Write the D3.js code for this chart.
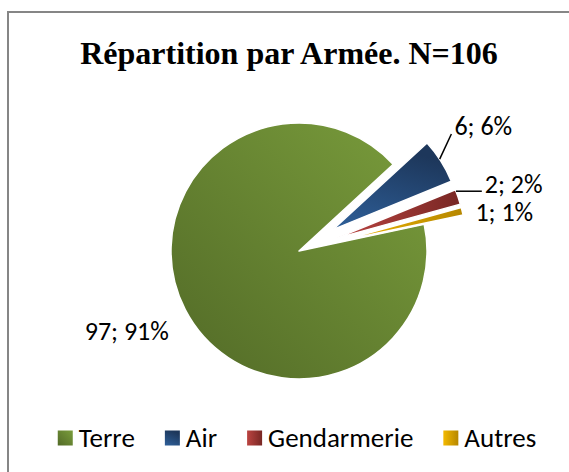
<!DOCTYPE html>
<html>
<head>
<meta charset="utf-8">
<script src="https://cdn.jsdelivr.net/npm/d3@7"></script>
<style>
  html, body { margin: 0; padding: 0; background: #fff; }
  svg { display: block; }
</style>
</head>
<body>
<div id="chart"></div>
<script>
// data
var categories = ["Terre", "Air", "Gendarmerie", "Autres"];
var counts = [97, 6, 2, 1];
var percentLabels = ["91%", "6%", "2%", "1%"];
var explodedSlices = ["Air", "Gendarmerie", "Autres"];
var titleText = "Répartition par Armée. N=106";

// styles (excel style gradients, light -> dark)
var lightColors = ["#7a9d3c", "#2f609a", "#bb4441", "#f3b900"];
var darkColors = ["#526a27", "#1d375b", "#782724", "#b68700"];
var gradDirs = [
    {x1: 1, y1: 0, x2: 0, y2: 1},
    {x1: 0, y1: 1, x2: 0.4, y2: 0},
    {x1: 0, y1: 0.5, x2: 1, y2: 0.5},
    {x1: 0, y1: 0.5, x2: 1, y2: 0.5}
];
var labelFont = "Carlito, Calibri, Lato, sans-serif";

var width = 569, height = 472;
var cx = 299, cy = 251, radius = 128, explodeDist = 40;
var startDeg = 78;

var svg = d3.select("#chart").append("svg")
    .attr("xmlns", "http://www.w3.org/2000/svg")
    .attr("width", width)
    .attr("height", height);

// chart area border (right / bottom are off the picture)
svg.append("rect")
    .attr("x", 8).attr("y", 12)
    .attr("width", 620).attr("height", 520)
    .attr("fill", "#fff")
    .attr("stroke", "#868686")
    .attr("stroke-width", 2);

var defs = svg.append("defs");
categories.forEach(function (c, i) {
    var g = defs.append("linearGradient")
        .attr("id", "grad" + i)
        .attr("x1", gradDirs[i].x1).attr("y1", gradDirs[i].y1)
        .attr("x2", gradDirs[i].x2).attr("y2", gradDirs[i].y2);
    g.append("stop").attr("offset", "0%").attr("stop-color", lightColors[i]);
    g.append("stop").attr("offset", "100%").attr("stop-color", darkColors[i]);
});

svg.append("text")
    .attr("x", 289)
    .attr("y", 64)
    .attr("text-anchor", "middle")
    .attr("font-family", "'Liberation Serif', 'Times New Roman', serif")
    .attr("font-weight", "bold")
    .attr("font-size", "32px")
    .text(titleText);

var rad = Math.PI / 180;
var pie = d3.pie()
    .sort(null)
    .startAngle(startDeg * rad)
    .endAngle(startDeg * rad + 2 * Math.PI)
    .value(function (d) { return d.count; });

var arc = d3.arc().innerRadius(0).outerRadius(radius);

var rows = categories.map(function (c, i) {
    return {name: c, count: counts[i], pct: percentLabels[i], idx: i};
});
var slices = pie(rows);

function polar(angle, r) {
    return [Math.sin(angle) * r, -Math.cos(angle) * r];
}

// offset of each slice centre (exploded ones pulled out along mid angle)
slices.forEach(function (s) {
    s.mid = (s.startAngle + s.endAngle) / 2;
    var off = explodedSlices.indexOf(s.data.name) >= 0 ? polar(s.mid, explodeDist) : [0, 0];
    s.cx = cx + off[0];
    s.cy = cy + off[1];
});

var pieGroup = svg.append("g").attr("class", "pie");
pieGroup.selectAll("path.slice")
    .data(slices)
    .enter()
    .append("path")
    .attr("class", "slice")
    .attr("transform", function (d) { return "translate(" + d.cx + "," + d.cy + ")"; })
    .attr("d", arc)
    .attr("fill", function (d) { return "url(#grad" + d.data.idx + ")"; })
    .attr("stroke", "#fff")
    .attr("stroke-width", 1.5)
    .attr("stroke-linejoin", "round");

// label placement: radius from slice centre + small angle nudge (degrees)
var labelRadius = [190, 183, 185, 169];
var labelNudge = [2.3, -2.3, 1.7, 3.7];
var labelSize = 26;

var labelGroup = svg.append("g").attr("class", "labels");
slices.forEach(function (s, i) {
    var p = polar(s.mid + labelNudge[i] * rad, labelRadius[i]);
    s.lx = s.cx + p[0];
    s.ly = s.cy + p[1];
});

var labels = labelGroup.selectAll("text")
    .data(slices)
    .enter()
    .append("text")
    .attr("x", function (d) { return d.lx; })
    .attr("y", function (d) { return d.ly; })
    .attr("dy", "0.35em")
    .attr("text-anchor", "middle")
    .attr("font-family", labelFont)
    .attr("font-size", labelSize + "px")
    .attr("fill", "#000")
    .text(function (d) { return d.data.count + "; " + d.data.pct; });

// leader lines for Air and Gendarmerie
labels.each(function (d) {
    var w = this.getComputedTextLength();
    var left = d.lx - w / 2;
    var start, end;
    if (d.data.name === "Air") {
        var a = polar(d.mid - 1 * rad, radius);
        start = [d.cx + a[0], d.cy + a[1]];
        end = [left - 3, d.ly + labelSize * 0.33];
    } else if (d.data.name === "Gendarmerie") {
        var b = polar(d.mid - 2.7 * rad, radius);
        start = [d.cx + b[0], d.cy + b[1]];
        end = [left - 3, start[1]];
    } else {
        return;
    }
    labelGroup.append("line")
        .attr("x1", start[0]).attr("y1", start[1])
        .attr("x2", end[0]).attr("y2", end[1])
        .attr("stroke", "#000")
        .attr("stroke-width", 1.5);
});

// legend, centred under the chart
var legend = svg.append("g").attr("class", "legend");
var legendY = 438, swatch = 15, itemGap = 30, legendSize = 27;
var xPos = 0;
var items = legend.selectAll("g.item")
    .data(rows)
    .enter()
    .append("g")
    .attr("class", "item");

items.append("rect")
    .attr("width", swatch)
    .attr("height", swatch)
    .attr("y", -swatch / 2)
    .attr("fill", function (d) { return "url(#grad" + d.idx + ")"; });

items.append("text")
    .attr("x", swatch + 6)
    .attr("dy", "0.35em")
    .attr("font-family", labelFont)
    .attr("font-size", legendSize + "px")
    .attr("fill", "#000")
    .text(function (d) { return d.name; });

items.each(function () {
    var w = swatch + 6 + d3.select(this).select("text").node().getComputedTextLength();
    d3.select(this).attr("transform", "translate(" + xPos + "," + legendY + ")");
    xPos += w + itemGap;
});
var totalW = xPos - itemGap;
legend.attr("transform", "translate(" + (297 - totalW / 2) + ",0)");
</script>
</body>
</html>
